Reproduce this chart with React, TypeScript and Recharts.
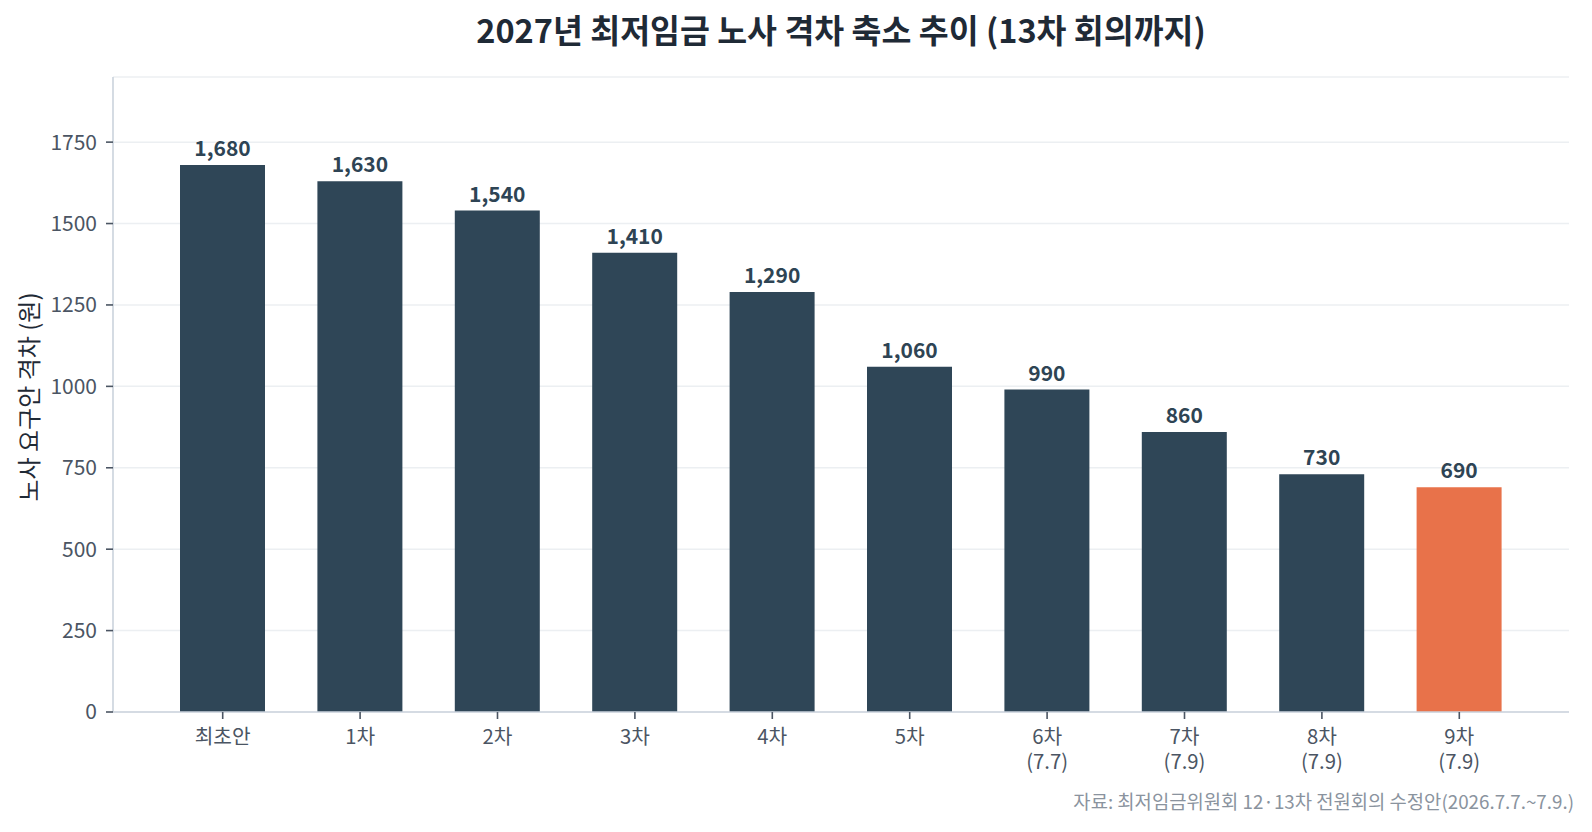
import { BarChart, Bar, XAxis, YAxis, CartesianGrid, Cell, LabelList } from "recharts";

const rounds = ["최초안", "1차", "2차", "3차", "4차", "5차", "6차", "7차", "8차", "9차"];
const roundDates = ["", "", "", "", "", "", "(7.7)", "(7.9)", "(7.9)", "(7.9)"];
const gaps = [1680, 1630, 1540, 1410, 1290, 1060, 990, 860, 730, 690];
const yTicks = [0, 250, 500, 750, 1000, 1250, 1500, 1750];

const data = rounds.map((r, i) => ({ round: r, date: roundDates[i], gap: gaps[i] }));

const FONT = "'Noto Sans CJK KR', 'Noto Sans', sans-serif";
const DARK = "#2f4657";
const HIGHLIGHT = "#e8724a";
const TICK = "#4b5563";

const RoundTick = (props: any) => {
  const { x, y, payload, index } = props;
  const date = roundDates[index];
  return (
    <g transform={`translate(${x},${y})`}>
      <text x={0} y={22.5} textAnchor="middle" fill={TICK} fontSize={20.3} fontFamily={FONT}>
        {payload.value}
      </text>
      {date && (
        <text x={0} y={47.5} textAnchor="middle" fill={TICK} fontSize={20.3} fontFamily={FONT}>
          {date}
        </text>
      )}
    </g>
  );
};

export default function App() {
  return (
    <div
      style={{
        position: "absolute",
        left: 0,
        top: 0,
        width: 1592,
        height: 832,
        background: "#fff",
        overflow: "hidden",
      }}
    >
      <BarChart
        width={1592}
        height={832}
        data={data}
        margin={{ top: 77, right: 23, left: 0, bottom: 60 }}
      >
        <CartesianGrid vertical={false} stroke="#eceff2" strokeWidth={1.5} />
        <XAxis
          dataKey="round"
          height={60}
          interval={0}
          padding={{ left: 41, right: 41 }}
          axisLine={{ stroke: "#cbd3dc", strokeWidth: 1.6 }}
          tickLine={{ stroke: TICK, strokeWidth: 1.6 }}
          tickSize={7}
          tick={<RoundTick />}
        />
        <YAxis
          width={113}
          domain={[0, 1950]}
          ticks={yTicks}
          axisLine={{ stroke: "#cbd3dc", strokeWidth: 1.6 }}
          tickLine={{ stroke: TICK, strokeWidth: 1.6 }}
          tickSize={7}
          tickMargin={9}
          tick={{ fill: TICK, fontSize: 21, fontFamily: FONT }}
        />
        <Bar dataKey="gap" barSize={85} isAnimationActive={false}>
          {data.map((d, i) => (
            <Cell key={d.round} fill={i === data.length - 1 ? HIGHLIGHT : DARK} />
          ))}
          <LabelList
            dataKey="gap"
            position="top"
            offset={9}
            formatter={(v: any) => Number(v).toLocaleString("en-US")}
            style={{ fill: "#2e4454", fontSize: 21, fontWeight: 700, fontFamily: FONT }}
          />
        </Bar>
      </BarChart>
      <svg
        width={1592}
        height={832}
        style={{ position: "absolute", left: 0, top: 0, pointerEvents: "none" }}
        fontFamily={FONT}
      >
        <text x={841} y={43} textAnchor="middle" fontSize={32.5} fontWeight={700} fill="#1f2a36">
          2027년 최저임금 노사 격차 축소 추이 (13차 회의까지)
        </text>
        <text
          x={38}
          y={397}
          textAnchor="middle"
          fontSize={24}
          fill="#1f2a36"
          transform="rotate(-90 38 397)"
        >
          노사 요구안 격차 (원)
        </text>
        <text x={1574} y={809} textAnchor="end" fontSize={18.8} fill="#8a939e">
          자료: 최저임금위원회 12·13차 전원회의 수정안(2026.7.7.~7.9.)
        </text>
      </svg>
    </div>
  );
}
